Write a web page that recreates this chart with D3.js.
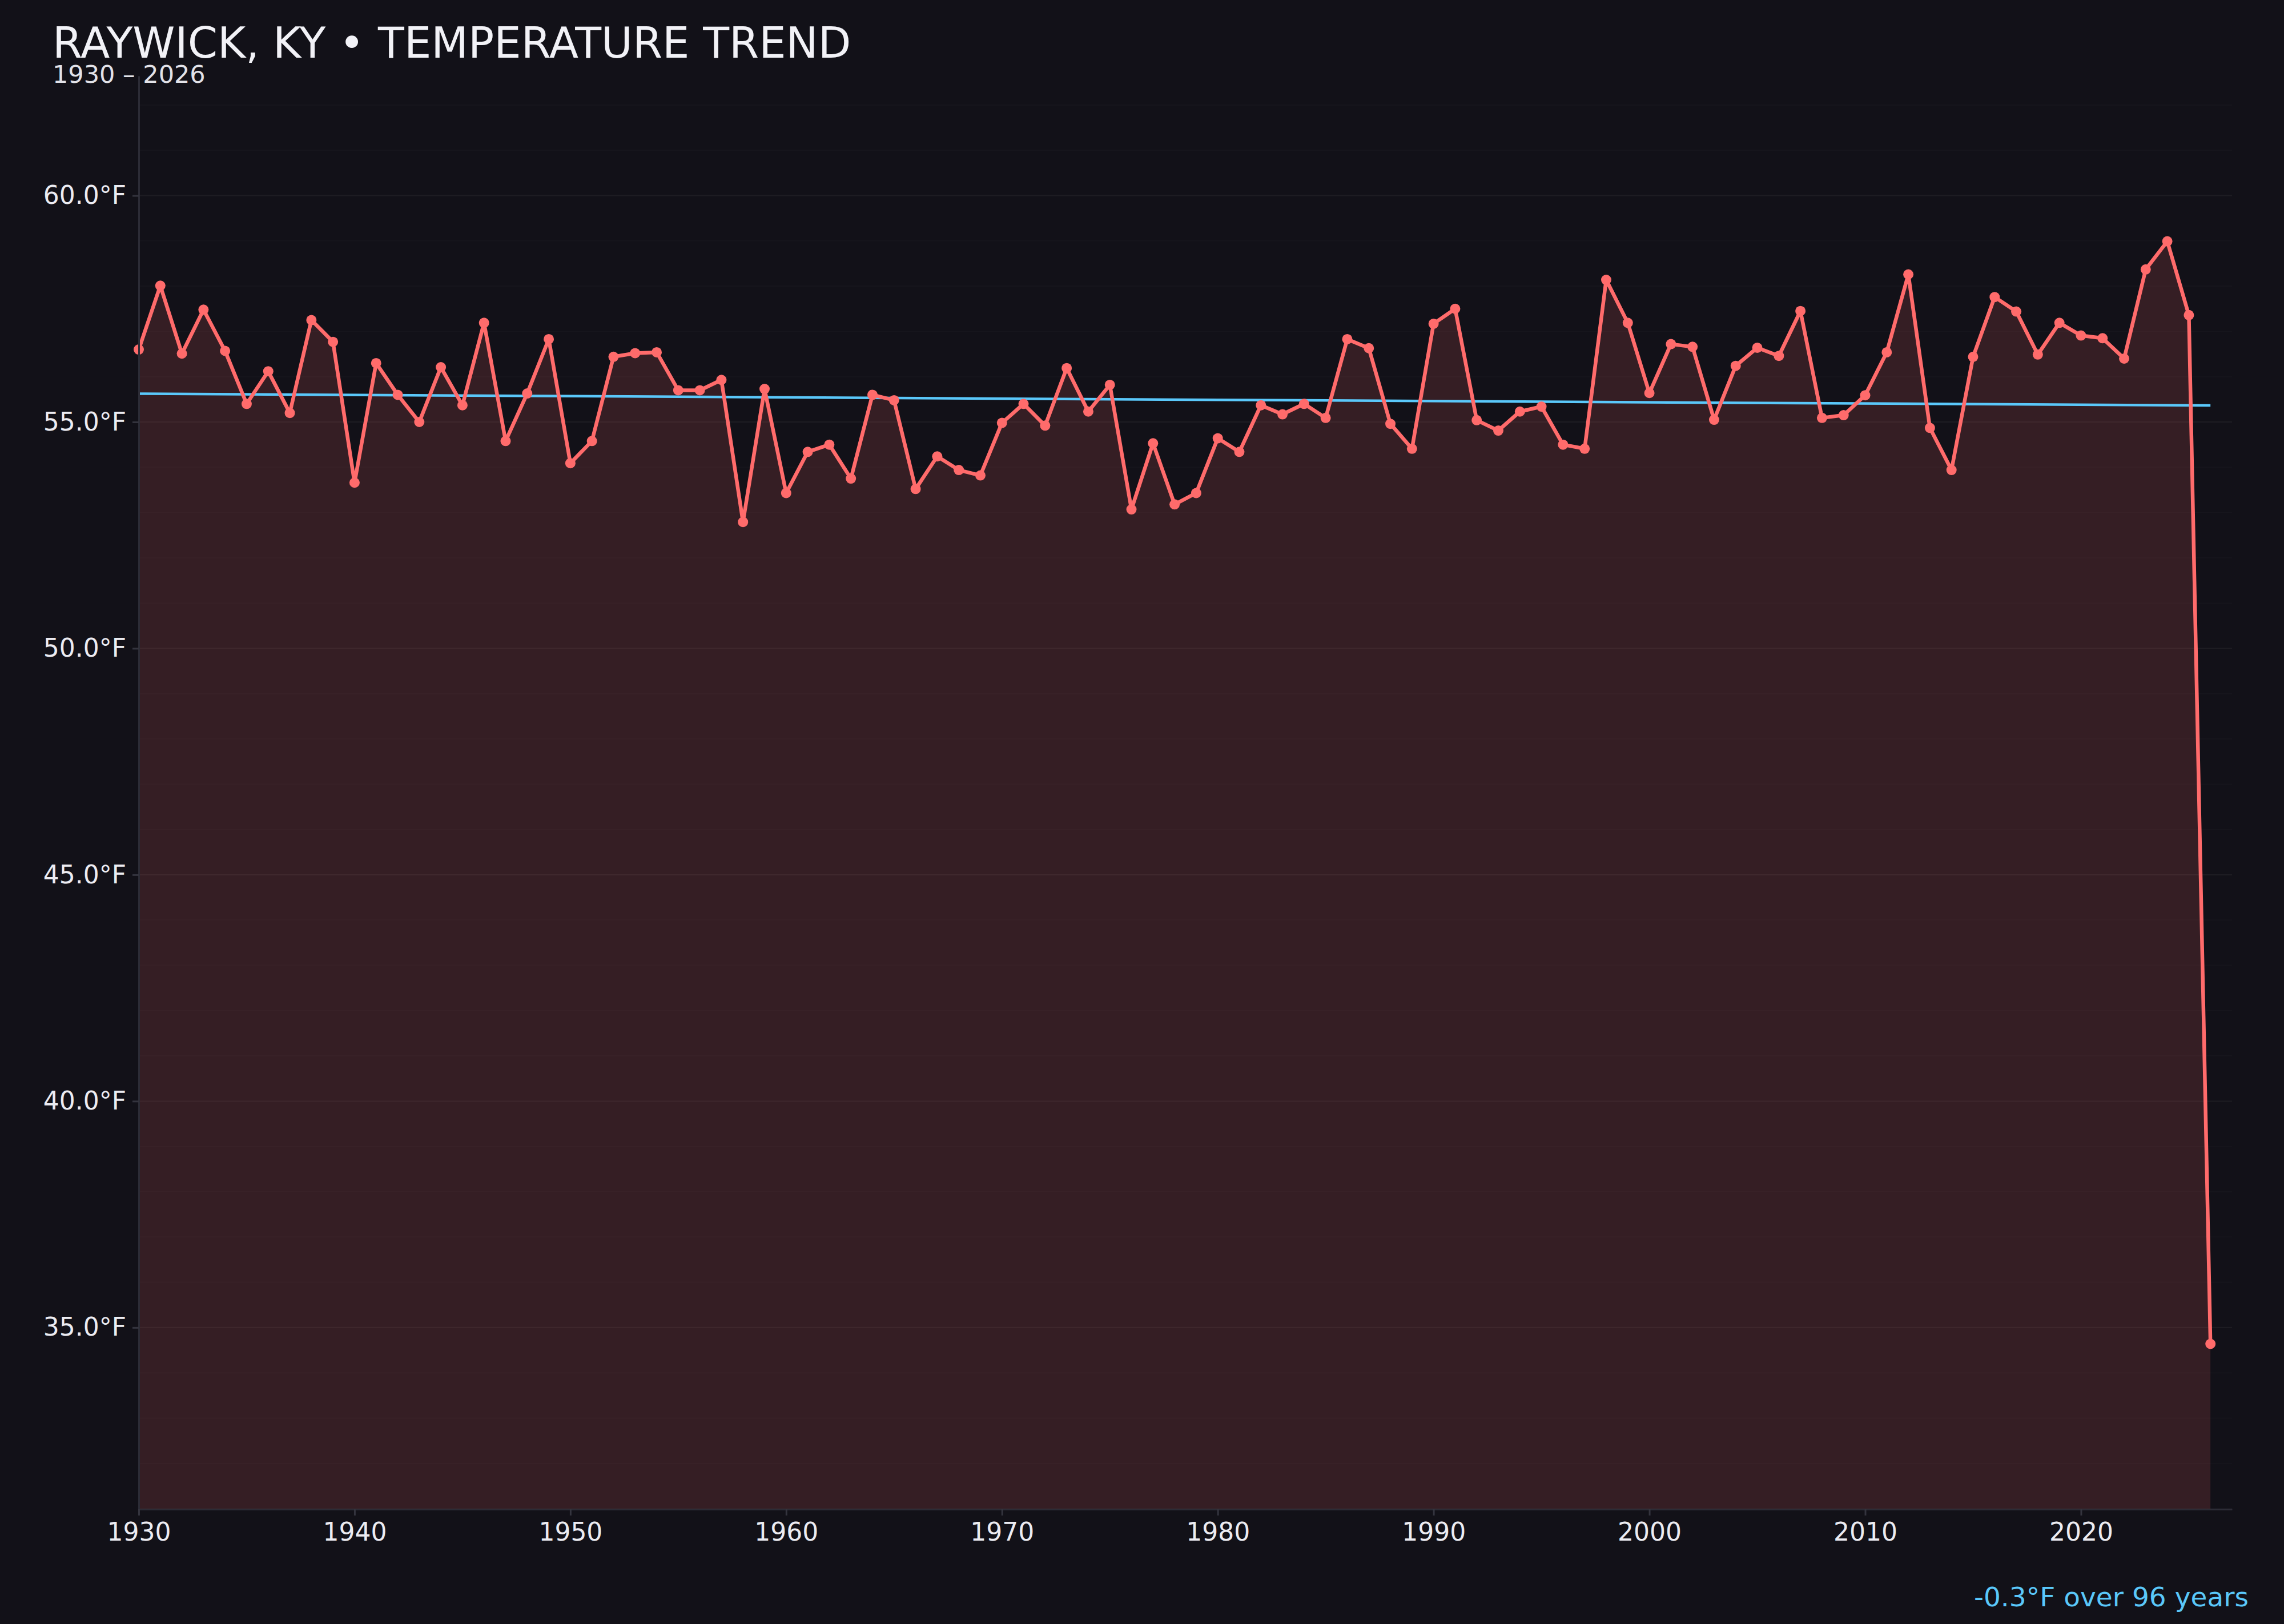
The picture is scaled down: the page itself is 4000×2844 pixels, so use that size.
<!DOCTYPE html>
<html>
<head>
<meta charset="utf-8">
<script src="https://cdn.jsdelivr.net/npm/d3@7"></script>
<style>
  html, body { margin: 0; padding: 0; background: #121118; }
  svg { display: block; }
</style>
</head>
<body>
<div id="chart"></div>
<script>
// annual mean temperature
var years = [
  1930, 1931, 1932, 1933, 1934, 1935, 1936, 1937, 1938, 1939,
  1940, 1941, 1942, 1943, 1944, 1945, 1946, 1947, 1948, 1949,
  1950, 1951, 1952, 1953, 1954, 1955, 1956, 1957, 1958, 1959,
  1960, 1961, 1962, 1963, 1964, 1965, 1966, 1967, 1968, 1969,
  1970, 1971, 1972, 1973, 1974, 1975, 1976, 1977, 1978, 1979,
  1980, 1981, 1982, 1983, 1984, 1985, 1986, 1987, 1988, 1989,
  1990, 1991, 1992, 1993, 1994, 1995, 1996, 1997, 1998, 1999,
  2000, 2001, 2002, 2003, 2004, 2005, 2006, 2007, 2008, 2009,
  2010, 2011, 2012, 2013, 2014, 2015, 2016, 2017, 2018, 2019,
  2020, 2021, 2022, 2023, 2024, 2025, 2026
];

var temps = [
  56.60, 58.01, 56.51, 57.48, 56.57, 55.40, 56.12, 55.20, 57.25, 56.77,
  53.66, 56.30, 55.60, 55.00, 56.21, 55.37, 57.19, 54.58, 55.63, 56.83,
  54.09, 54.58, 56.44, 56.52, 56.54, 55.70, 55.70, 55.93, 52.79, 55.73,
  53.43, 54.34, 54.50, 53.75, 55.60, 55.48, 53.52, 54.24, 53.94, 53.82,
  54.98, 55.40, 54.92, 56.19, 55.23, 55.82, 53.07, 54.53, 53.18, 53.43,
  54.64, 54.34, 55.37, 55.17, 55.40, 55.09, 56.83, 56.63, 54.96, 54.41,
  57.17, 57.50, 55.04, 54.81, 55.23, 55.34, 54.50, 54.41, 58.14, 57.19,
  55.64, 56.72, 56.66, 55.05, 56.24, 56.64, 56.46, 57.45, 55.09, 55.15,
  55.59, 56.54, 58.26, 54.87, 53.94, 56.44, 57.76, 57.44, 56.49, 57.19,
  56.91, 56.85, 56.40, 58.37, 58.99, 57.36, 34.64
];

var yTicks = [35, 40, 45, 50, 55, 60];
var xTicks = [1930, 1940, 1950, 1960, 1970, 1980, 1990, 2000, 2010, 2020];

var title = 'RAYWICK, KY \u2022 TEMPERATURE TREND';
var subtitle = '1930 \u2013 2026';

var width = 4000;
var height = 2844;
var margin = { top: 133, right: 91, bottom: 201, left: 243 };
var innerW = width - margin.left - margin.right;
var innerH = height - margin.top - margin.bottom;

var lineColor = '#ff6b6b';
var trendColor = '#5ac8fa';
var font = '"DejaVu Sans", sans-serif';

var data = years.map(function(y, i) { return { year: y, temp: temps[i] }; });

var ext = d3.extent(temps);
var pad = (ext[1] - ext[0]) * 0.15;

var x = d3.scaleLinear()
    .domain([years[0], years[years.length - 1] + 1])
    .range([0, innerW]);

var y = d3.scaleLinear()
    .domain([ext[0] - pad, ext[1] + pad])
    .range([innerH, 0]);

// least squares trend
var mx = d3.mean(years), my = d3.mean(temps);
var num = d3.sum(data, function(d) { return (d.year - mx) * (d.temp - my); });
var den = d3.sum(data, function(d) { return (d.year - mx) * (d.year - mx); });
var slope = num / den;
var intercept = my - slope * mx;
var firstYear = years[0], lastYear = years[years.length - 1];
var trend = [firstYear, lastYear].map(function(yr) {
  return { year: yr, temp: intercept + slope * yr };
});
var change = slope * (lastYear - firstYear);

var svg = d3.select('#chart').append('svg')
    .attr('width', width)
    .attr('height', height)
    .style('background', '#121118');

svg.append('text')
    .attr('x', 92)
    .attr('y', 101)
    .attr('fill', '#f2f2f7')
    .attr('font-family', font)
    .attr('font-size', 75)
    .text(title);

svg.append('text')
    .attr('x', 92)
    .attr('y', 145)
    .attr('fill', '#e2e2e8')
    .attr('font-family', font)
    .attr('font-size', 43)
    .text(subtitle);

var g = svg.append('g')
    .attr('transform', 'translate(' + margin.left + ',' + margin.top + ')');

// one faint grid line per degree
var gridVals = d3.range(Math.ceil(y.domain()[0]), Math.floor(y.domain()[1]) + 1);
g.append('g')
    .attr('class', 'grid')
    .selectAll('line')
    .data(gridVals)
    .enter().append('line')
    .attr('x1', 0)
    .attr('x2', innerW)
    .attr('y1', function(d) { return y(d); })
    .attr('y2', function(d) { return y(d); })
    .attr('stroke', '#ffffff')
    .attr('stroke-opacity', function(d) { return d % 5 === 0 ? 0.05 : 0.018; })
    .attr('stroke-width', 2);

var area = d3.area()
    .x(function(d) { return x(d.year); })
    .y0(innerH)
    .y1(function(d) { return y(d.temp); });

g.append('path')
    .datum(data)
    .attr('fill', lineColor)
    .attr('fill-opacity', 0.15)
    .attr('d', area);

var line = d3.line()
    .x(function(d) { return x(d.year); })
    .y(function(d) { return y(d.temp); });

g.append('path')
    .datum(trend)
    .attr('fill', 'none')
    .attr('stroke', trendColor)
    .attr('stroke-width', 4.5)
    .attr('d', line);

g.append('path')
    .datum(data)
    .attr('fill', 'none')
    .attr('stroke', lineColor)
    .attr('stroke-width', 6.5)
    .attr('stroke-linejoin', 'round')
    .attr('d', line);

g.selectAll('circle.pt')
    .data(data)
    .enter().append('circle')
    .attr('class', 'pt')
    .attr('cx', function(d) { return x(d.year); })
    .attr('cy', function(d) { return y(d.temp); })
    .attr('r', 9)
    .attr('fill', lineColor);

var yAxis = g.append('g')
    .call(d3.axisLeft(y)
      .tickValues(yTicks)
      .tickFormat(function(d) { return d.toFixed(1) + '\u00b0F'; })
      .tickSize(11)
      .tickSizeOuter(0)
      .tickPadding(11));

var xAxis = g.append('g')
    .attr('transform', 'translate(0,' + innerH + ')')
    .call(d3.axisBottom(x)
      .tickValues(xTicks)
      .tickFormat(d3.format('d'))
      .tickSize(11)
      .tickSizeOuter(0)
      .tickPadding(13));

[yAxis, xAxis].forEach(function(ax) {
  ax.select('.domain').attr('stroke', '#2c2c36').attr('stroke-width', 3);
  ax.selectAll('.tick line').attr('stroke', '#34343e').attr('stroke-width', 3);
  ax.selectAll('.tick text')
    .attr('fill', '#ececf2')
    .attr('font-family', font)
    .attr('font-size', 44);
});

svg.append('text')
    .attr('x', 3938)
    .attr('y', 2813)
    .attr('text-anchor', 'end')
    .attr('fill', trendColor)
    .attr('font-family', font)
    .attr('font-size', 47)
    .text(change.toFixed(1) + '\u00b0F over ' + (lastYear - firstYear) + ' years');
</script>
</body>
</html>
